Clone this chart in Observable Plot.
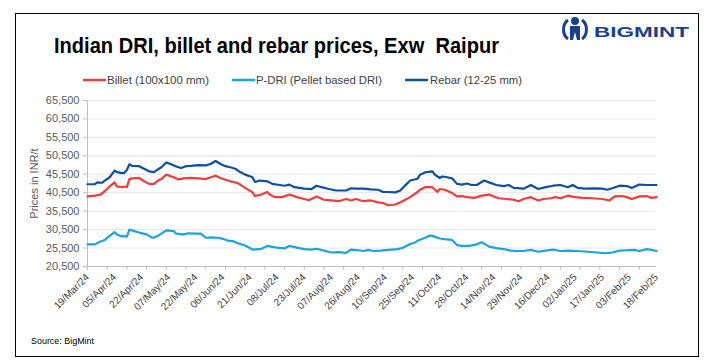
<!DOCTYPE html>
<html><head><meta charset="utf-8">
<script src="https://cdn.jsdelivr.net/npm/d3@7"></script>
<script src="https://cdn.jsdelivr.net/npm/@observablehq/plot@0.6"></script>
<style>
body{margin:0;background:#fff;font-family:"Liberation Sans",Arial,sans-serif;}
#wrap{position:relative;width:712px;height:360px;overflow:hidden;background:#fff;}
#chart{position:absolute;left:0;top:0;}
#overlay{position:absolute;left:0;top:0;pointer-events:none;}
</style></head><body>
<div id="wrap">
  <div id="chart"></div>
  <svg id="overlay" width="712" height="360" xmlns="http://www.w3.org/2000/svg" font-family="Liberation Sans, Arial, sans-serif">
    <rect x="15.5" y="13.5" width="683" height="343" fill="none" stroke="#000" stroke-width="1"/>
    <text x="54" y="53" font-size="22" font-weight="bold" fill="#000" textLength="445" lengthAdjust="spacingAndGlyphs" xml:space="preserve">Indian DRI, billet and rebar prices, Exw  Raipur</text>
    <g id="legend" font-size="11" fill="#404040"></g>
    <g id="logo"></g>
    <text x="31" y="344" font-size="9" fill="#000" textLength="63" lengthAdjust="spacingAndGlyphs">Source: BigMint</text>
  </svg>
</div>
<script>
// ---- Data ----
const dateLabels = ["19/Mar/24","05/Apr/24","22/Apr/24","07/May/24","22/May/24","06/Jun/24","21/Jun/24","08/Jul/24","23/Jul/24","07/Aug/24","26/Aug/24","10/Sep/24","25/Sep/24","11/Oct/24","28/Oct/24","14/Nov/24","29/Nov/24","16/Dec/24","02/Jan/25","17/Jan/25","03/Feb/25","18/Feb/25"];
const yTicks = [20500,25500,30500,35500,40500,45500,50500,55500,60500,65500];
const seriesNames = ["Billet (100x100 mm)","P-DRI (Pellet based DRI)","Rebar (12-25 mm)"];
const seriesColors = ["#ee3d3a","#1ba3e1","#0d4fa3"];

const rebarIdx = [0,3,4,6,7,9,11,12,14,15,16,17,18,21,23,25,27,29,30,32,34,36,38,40,42,45,48,50,52,54,56,58,60,62,64,67,68,70,73,75,78,80,82,84,88,91,93,95,98,101,105,107,109,112,115,118,120,122,125,127,129,131,134,135,137,140,141,143,144,146,148,150,152,154,156,158,161,163,166,169,171,173,177,180,183,186,189,192,195,197,199,202,206,209,211,213,216,219,221,224,227,229,231];
const rebarVal = [42800,42800,43300,43200,43800,44700,46500,46100,45800,45900,46700,48200,47800,47700,47000,46300,46100,47000,47400,48700,48200,47600,47200,47700,47800,48000,47900,48300,49100,48300,47700,47400,47000,46100,45400,44700,43400,43800,43600,42900,42600,42400,42700,42000,41600,41500,42400,42000,41500,41100,41100,41700,41600,41600,41400,41300,40700,40700,40600,41100,42500,43800,44300,45400,46000,46300,45400,44500,44900,44700,44400,42900,42700,43000,42600,42600,43800,43300,42600,42300,42600,41800,41600,42600,41500,42000,42400,42600,42000,42600,41800,41600,41700,41600,41300,41700,42400,42300,41800,42700,42600,42600,42600];

const billetIdx = [0,3,5,7,9,11,12,14,15,16,17,18,21,23,25,27,29,30,32,35,37,39,42,45,48,50,52,54,56,58,61,64,67,68,70,73,74,76,79,82,85,88,90,93,96,99,102,105,107,109,112,115,118,120,122,125,127,129,131,134,135,137,140,142,143,145,148,150,152,154,157,160,163,165,167,170,173,175,177,180,183,185,188,190,192,195,198,201,205,209,212,214,217,219,221,224,227,229,231];
const billetVal = [39500,39700,39900,40900,42200,43300,42200,42000,42200,42000,44200,44400,44500,43600,42900,42900,44000,44200,45400,44700,44100,44400,44500,44400,44200,44700,45100,44500,44000,43600,43100,41800,40600,39600,39900,40700,40000,39300,39300,40000,39300,38800,38500,39500,38600,38400,38200,38800,38400,38800,38200,38400,37900,37700,37100,37300,37900,38600,39300,40700,41300,42000,42000,40700,41500,41300,40400,39500,39600,39300,39100,39700,40000,39500,39000,38800,38600,38200,38800,39300,38400,38800,39000,39300,39000,39700,39300,39100,39000,38800,38400,39500,39600,39300,38800,39500,39600,39100,39300];

const driIdx = [0,3,5,7,9,11,12,14,15,16,17,19,21,24,26,27,29,30,32,35,36,39,41,44,46,48,50,53,55,57,59,61,64,67,70,72,73,76,80,82,85,88,91,93,96,99,102,105,107,110,112,114,116,119,122,126,128,131,133,134,137,139,140,143,145,148,150,152,155,158,160,163,166,169,172,174,177,180,183,186,189,192,195,199,203,207,210,213,216,219,222,224,227,229,231];
const driVal = [26500,26500,27200,27700,28800,29800,29200,28600,28800,28600,30500,30100,29700,29200,28400,28300,29000,29400,30300,30100,29400,29200,29500,29400,29400,28300,28400,28300,28000,27500,27400,26800,26200,25100,25200,25700,26100,25700,25400,26100,25600,25200,25100,25300,24800,24300,24400,24200,25100,24900,24700,25000,24700,24800,25000,25200,25600,26600,27000,27500,28300,28900,28800,28100,27900,27700,26300,26100,26100,26500,27100,25900,25500,25200,24800,24700,24700,25000,24500,24800,25100,24700,24800,24700,24500,24300,24100,24300,24800,24900,25000,24700,25200,25000,24700];

// ---- Table built from arrays ----
const rows = [];
billetIdx.forEach((x,i)=>rows.push({series:seriesNames[0], x, y:billetVal[i]}));
driIdx.forEach((x,i)=>rows.push({series:seriesNames[1], x, y:driVal[i]}));
rebarIdx.forEach((x,i)=>rows.push({series:seriesNames[2], x, y:rebarVal[i]}));

const nCat = 231;
const labelStep = 11, tickStep = 8;
const labelIdx = dateLabels.map((_,i)=>i*labelStep);
const tickIdx = d3.range(0, nCat, tickStep);

const chart = Plot.plot({
  width: 712, height: 360,
  marginLeft: 87, marginRight: 56, marginTop: 100, marginBottom: 94,
  style: {fontFamily: "Liberation Sans, Arial, sans-serif", background: "transparent", color: "#595959"},
  x: {type: "linear", domain: [0, nCat]},
  y: {domain: [20500, 65500]},
  color: {domain: seriesNames, range: seriesColors},
  marks: [
    Plot.gridY(yTicks, {stroke: "#e6e6e6", strokeOpacity: 1}),
    Plot.axisY(yTicks, {tickFormat: d3.format(","), tickSize: 4, tickPadding: 4, stroke: "#bfbfbf", fontSize: 11, fill: "#595959",
      label: "Prices in INR/t", labelAnchor: "center", labelArrow: "none", labelOffset: 57}),
    Plot.ruleX([0], {stroke: "#bfbfbf"}),
    Plot.ruleY([20500], {stroke: "#bfbfbf"}),
    Plot.axisX(tickIdx, {tickSize: 4, tickFormat: () => "", stroke: "#bfbfbf", label: null}),
    Plot.axisX(labelIdx, {tickSize: 0, tickRotate: -45, tickPadding: 9, fontSize: 10, fill: "#404040",
      tickFormat: i => dateLabels[i / labelStep], label: null}),
    Plot.lineY(rows, {x: "x", y: "y", z: "series", stroke: "series", strokeWidth: 2.2, curve: "linear"})
  ]
});
document.getElementById("chart").appendChild(chart);

// ---- Legend ----
const ns = "http://www.w3.org/2000/svg";
const leg = document.getElementById("legend");
const legPos = [[83,107,102],[232,256,126],[405,430,92]];
seriesNames.forEach((name,i)=>{
  const [lx, tx, tw] = legPos[i];
  const l = document.createElementNS(ns,"line");
  l.setAttribute("x1",lx); l.setAttribute("x2",lx+23); l.setAttribute("y1",80); l.setAttribute("y2",80);
  l.setAttribute("stroke",seriesColors[i]); l.setAttribute("stroke-width",2.5);
  leg.appendChild(l);
  const t = document.createElementNS(ns,"text");
  t.setAttribute("x",tx); t.setAttribute("y",84);
  t.setAttribute("textLength",tw); t.setAttribute("lengthAdjust","spacingAndGlyphs");
  t.textContent = name;
  leg.appendChild(t);
});

// ---- Logo ----
const logo = document.getElementById("logo");
logo.innerHTML = `
  <g fill="none" stroke="#1b3f8b" stroke-width="3">
    <path d="M568,20 A9,11 0 0,0 568,39"/>
    <path d="M582,20 A9,11 0 0,1 582,39"/>
  </g>
  <circle cx="575" cy="21" r="4" fill="#1b3f8b"/>
  <path d="M570,26 L580,26 L580,40 L577,40 L575,32 L573,40 L570,40 Z" fill="#1b3f8b"/>
  <text x="594" y="37" font-size="15" font-weight="bold" fill="#1b3f8b" textLength="95" lengthAdjust="spacingAndGlyphs">BIGMINT</text>`;
</script>
</body></html>
